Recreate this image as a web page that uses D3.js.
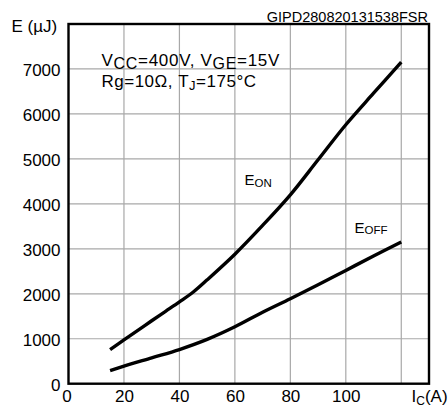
<!DOCTYPE html>
<html><head><meta charset="utf-8">
<script src="https://cdn.jsdelivr.net/npm/d3@7"></script>
<style>
body{margin:0;background:#fff;}
text{font-family:"Liberation Sans",Arial,sans-serif;fill:#000;}
</style></head>
<body>
<svg id="c" width="448" height="408"></svg>
<script>
const xTicks = [0, 20, 40, 60, 80, 100];
const yTicks = [0, 1000, 2000, 3000, 4000, 5000, 6000, 7000];
const xGrid = [20, 40, 60, 80, 100, 120];
const yGrid = [1000, 2000, 3000, 4000, 5000, 6000, 7000];
const ic = [15, 20, 25, 30, 35, 40, 45, 50, 60, 70, 80, 90, 100, 110, 120];
const eOn = [760, 975, 1185, 1400, 1610, 1820, 2040, 2310, 2880, 3520, 4200, 4980, 5760, 6460, 7150];
const icOff = [15, 20, 30, 40, 50, 60, 70, 80, 90, 100, 110, 120];
const eOff = [290, 390, 575, 760, 985, 1265, 1590, 1890, 2200, 2520, 2840, 3150];

const svg = d3.select("#c");
const L = 68.5, R = 429, T = 24, B = 383.7;
const x = d3.scaleLinear().domain([0, 130]).range([L, R]);
const y = d3.scaleLinear().domain([0, 8000]).range([B, T]);

// grid
svg.append("g").selectAll("line").data(xGrid).join("line")
  .attr("x1", d => x(d)).attr("x2", d => x(d)).attr("y1", T).attr("y2", B)
  .attr("stroke", "#a8a8a8").attr("stroke-width", 1.2);
svg.append("g").selectAll("line").data(yGrid).join("line")
  .attr("y1", d => y(d)).attr("y2", d => y(d)).attr("x1", L).attr("x2", R)
  .attr("stroke", "#a8a8a8").attr("stroke-width", 1.2);

// axes (labels only)
const xa = svg.append("g").attr("transform", `translate(0,${B})`)
  .call(d3.axisBottom(x).tickValues(xTicks).tickFormat(d3.format("d")).tickSize(0).tickPadding(0));
xa.select(".domain").remove();
xa.selectAll("text").attr("font-size", 17).attr("y", 18).attr("dy", 0)
  .attr("font-family", "Liberation Sans, Arial, sans-serif");
xa.selectAll(".tick").filter(d => d === 0).select("text").attr("dx", -2);

const ya = svg.append("g").attr("transform", `translate(${L},0)`)
  .call(d3.axisLeft(y).tickValues(yTicks).tickFormat(d3.format("d")).tickSize(0).tickPadding(8));
ya.select(".domain").remove();
ya.selectAll("text").attr("font-size", 17).attr("dy", "0.4em")
  .attr("font-family", "Liberation Sans, Arial, sans-serif");

// frame
svg.append("rect").attr("x", L).attr("y", T).attr("width", R - L).attr("height", B - T)
  .attr("fill", "none").attr("stroke", "#000").attr("stroke-width", 2.4);

// curves
const line = d3.line().x(d => x(d[0])).y(d => y(d[1])).curve(d3.curveCatmullRom.alpha(0.5));
svg.append("path").datum(ic.map((v, i) => [v, eOn[i]])).attr("d", line)
  .attr("fill", "none").attr("stroke", "#000").attr("stroke-width", 3.4);
svg.append("path").datum(icOff.map((v, i) => [v, eOff[i]])).attr("d", line)
  .attr("fill", "none").attr("stroke", "#000").attr("stroke-width", 3.4);

// texts
svg.append("text").attr("x", 11.5).attr("y", 31.5).attr("font-size", 17).text("E (µJ)");
svg.append("text").attr("x", 428).attr("y", 21.5).attr("font-size", 14.5)
  .attr("text-anchor", "end").text("GIPD280820131538FSR");

const t1 = svg.append("text").attr("x", 101.5).attr("y", 66).attr("font-size", 17)
  .attr("letter-spacing", 0.7);
t1.append("tspan").text("V");
t1.append("tspan").attr("dy", 3).attr("font-size", 16).text("CC");
t1.append("tspan").attr("dy", -3).text("=400V, V");
t1.append("tspan").attr("dy", 3).attr("font-size", 16).text("GE");
t1.append("tspan").attr("dy", -3).text("=15V");

const t2 = svg.append("text").attr("x", 101.5).attr("y", 86.5).attr("font-size", 17)
  .attr("letter-spacing", 0.5);
t2.append("tspan").text("Rg=10Ω, T");
t2.append("tspan").attr("dy", 3).attr("font-size", 13).text("J");
t2.append("tspan").attr("dy", -3).text("=175°C");

const ton = svg.append("text").attr("x", 244.5).attr("y", 185).attr("font-size", 15);
ton.append("tspan").text("E");
ton.append("tspan").attr("dy", 1.5).attr("font-size", 11.5).text("ON");

const toff = svg.append("text").attr("x", 354.5).attr("y", 232.5).attr("font-size", 15);
toff.append("tspan").text("E");
toff.append("tspan").attr("dy", 1.5).attr("font-size", 11.5).text("OFF");

const tic = svg.append("text").attr("x", 411.5).attr("y", 401.7).attr("font-size", 17);
tic.append("tspan").text("I");
tic.append("tspan").attr("dy", 3).attr("font-size", 12).text("C");
tic.append("tspan").attr("dy", -3).text("(A)");
</script>
</body></html>
